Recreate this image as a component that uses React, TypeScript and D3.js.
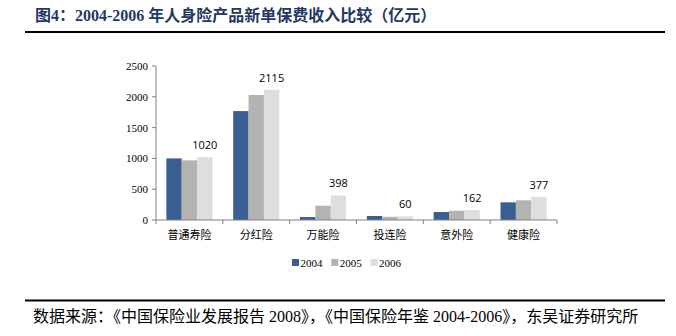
import React from "react";
import * as d3 from "d3";

const categories = ["普通寿险", "分红险", "万能险", "投连险", "意外险", "健康险"];
const seriesNames = ["2004", "2005", "2006"];
const values2004 = [1000, 1768, 48, 65, 130, 287];
const values2005 = [968, 2030, 232, 52, 150, 320];
const values2006 = [1020, 2115, 398, 60, 162, 377];
const yTicks = [0, 500, 1000, 1500, 2000, 2500];
const colors = ["#3A5E8F", "#B3B3B3", "#DEDEDE"];

const serif = "'Liberation Serif', 'DejaVu Serif', 'Noto Sans CJK SC', serif";
const cjk = "'Liberation Serif', 'Noto Sans CJK SC', serif";
const sans = "'Open Sans', 'Liberation Sans', sans-serif";

export default function App() {
  const W = 676, H = 336;
  const series = [values2004, values2005, values2006];
  const x0 = d3.scaleBand<string>().domain(categories).range([156, 557]).paddingInner(0.31).paddingOuter(0.155);
  const x1 = d3.scaleBand<string>().domain(seriesNames).range([0, x0.bandwidth()]);
  const y = d3.scaleLinear().domain([0, 2500]).range([220, 66]);
  const step = x0.step();
  const bounds = d3.range(categories.length + 1).map((i) => 156 + i * step);

  return (
    <svg width={W} height={H} style={{ position: "absolute", left: 0, top: 0, background: "#fff" }}>
      <text x={35} y={21} fontFamily={cjk} fontWeight="bold" fontSize={16} fill="#1F3864">
        图4：2004-2006 年人身险产品新单保费收入比较（亿元）
      </text>
      <line x1={25} x2={665} y1={32} y2={32} stroke="#000" strokeWidth={2} />

      {/* y axis */}
      <line x1={156} x2={156} y1={66} y2={220} stroke="#808080" strokeWidth={1} />
      {yTicks.map((t) => (
        <g key={t}>
          <line x1={152} x2={156} y1={y(t)} y2={y(t)} stroke="#808080" />
          <text x={148} y={y(t) + 4} textAnchor="end" fontFamily={serif} fontSize={11} fill="#000">
            {t}
          </text>
        </g>
      ))}

      {/* bars */}
      {categories.map((c, i) => (
        <g key={c}>
          {series.map((s, j) => (
            <rect
              key={j}
              x={(x0(c) as number) + (x1(seriesNames[j]) as number)}
              y={y(s[i])}
              width={x1.bandwidth()}
              height={y(0) - y(s[i])}
              fill={colors[j]}
            />
          ))}
          <text
            x={(x0(c) as number) + (x1("2006") as number) + x1.bandwidth() / 2}
            y={y(values2006[i]) - 8}
            textAnchor="middle"
            fontFamily={sans}
            fontSize={11}
            fill="#000"
          >
            {values2006[i]}
          </text>
          <text
            x={(x0(c) as number) + x0.bandwidth() / 2}
            y={239}
            textAnchor="middle"
            fontFamily={cjk}
            fontSize={11}
            fill="#000"
          >
            {c}
          </text>
        </g>
      ))}

      {/* x axis */}
      <line x1={156} x2={557} y1={220} y2={220} stroke="#808080" strokeWidth={1} />
      {bounds.map((b, i) => (
        <line key={i} x1={b} x2={b} y1={220} y2={224} stroke="#808080" />
      ))}

      {/* legend */}
      {seriesNames.map((n, j) => {
        const lx = 292 + j * 39.3;
        return (
          <g key={n}>
            <rect x={lx} y={259} width={7} height={7} fill={colors[j]} />
            <text x={lx + 8.5} y={266.5} fontFamily={serif} fontSize={11} fill="#000">
              {n}
            </text>
          </g>
        );
      })}

      <line x1={25} x2={665} y1={300.5} y2={300.5} stroke="#000" strokeWidth={2} />
      <text x={33} y={322} fontFamily={cjk} fontSize={16} fill="#000">
        数据来源：《中国保险业发展报告 2008》，《中国保险年鉴 2004-2006》，东吴证券研究所
      </text>
    </svg>
  );
}
